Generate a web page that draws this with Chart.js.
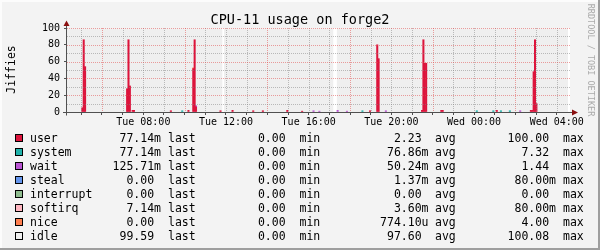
<!DOCTYPE html>
<html>
<head>
<meta charset="utf-8">
<title>CPU-11 usage on forge2</title>
<script src="https://cdn.jsdelivr.net/npm/chart.js@4.4.1/dist/chart.umd.min.js"></script>
<style>
  html, body { margin: 0; padding: 0; background: #f3f3f3; }
  #wrap { width: 600px; height: 250px; }
</style>
</head>
<body>
<div id="wrap"><canvas id="cpuChart" width="600" height="250"></canvas></div>
<script>
// times are minutes since Tue 00:00, values in jiffies
const timeRange = [258.5, 1718.5];
const hourTicks = [300, 360, 420, 480, 540, 600, 660, 720, 780, 840, 900, 960, 1020, 1080,
  1140, 1200, 1260, 1320, 1380, 1440, 1500, 1560, 1620, 1680];
const xLabelTimes = [480, 720, 960, 1200, 1440, 1680];
const xLabels = ['Tue 08:00', 'Tue 12:00', 'Tue 16:00', 'Tue 20:00', 'Wed 00:00', 'Wed 04:00'];
const xMajorTimes = [360, 600, 840, 1080, 1320, 1560];
const yTicks = [0, 10, 20, 30, 40, 50, 60, 70, 80, 90, 100];
const yLabels = [0, 20, 40, 60, 80, 100];

const seriesNames = ['user', 'system', 'wait', 'steal', 'interrupt', 'softirq', 'nice', 'idle'];
const seriesColors = ['#dc143c', '#20b2aa', '#ba55d3', '#6495ed', '#8fbc8f', '#ffb6c1', '#ff7f50', '#efefef'];

// [minute, value]
const user = [[303, 5], [307, 86], [311, 54], [433, 27.7], [437, 86], [441, 31], [449, 2], [453, 2],
  [560, 1.5], [611, 2], [625, 51.5], [629, 86], [633, 6], [704, 1.5], [739, 2], [799, 1.5], [827, 1.5],
  [898, 2], [941, 1], [1138, 1.5], [1159, 80], [1163, 63.5], [1289, 2], [1293, 86], [1297, 58], [1301, 58],
  [1345, 2], [1349, 2], [1506, 2], [1605, 2], [1609, 2], [1613, 48], [1617, 86], [1621, 10]];
const system = [[593, 1.5], [1116, 1.5], [1448, 1.5], [1496, 1.5], [1518, 1.5], [1544, 1.5]];
const wait = [[633, 1.5], [974, 1.5], [991, 1], [1044, 2], [1071, 1], [1184, 1.5], [1574, 1.5]];
const steal = [];
const interrupt = [];
const softirq = [];
const nice = [[625, 1]];
const idle = [[258, 99.6], [710, 99.6], [712, null], [714, 99.6], [1032, 99.6], [1036, null], [1041, 99.6], [1713, 99.6]];

const lastVals = ['77.14m', '77.14m', '125.71m', '0.00', '0.00', '7.14m', '0.00', '99.59'];
const minVals = ['0.00', '0.00', '0.00', '0.00', '0.00', '0.00', '0.00', '0.00'];
const avgVals = ['2.23', '76.86m', '50.24m', '1.37m', '0.00', '3.60m', '774.10u', '97.60'];
const maxVals = ['100.00', '7.32', '1.44', '80.00m', '0.00', '80.00m', '4.00', '100.08'];

const MONO = "'DejaVu Sans Mono', monospace";
const minorGrid = 'rgba(130,130,130,0.5)';
const majorGrid = 'rgba(225,70,70,0.5)';

const barSeries = [user, system, wait, steal, interrupt, softirq, nice];
const datasets = barSeries.map((s, i) => ({
    type: 'bar',
    label: seriesNames[i],
    data: s.map(([x, y]) => ({ x, y })),
    backgroundColor: seriesColors[i],
    borderWidth: 0,
    categoryPercentage: 1,
    barPercentage: 1,
    order: 0
}));
datasets.push({
    type: 'line',
    label: 'idle',
    data: idle.map(([x, y]) => ({ x, y })),
    borderColor: 'rgba(0,0,0,0)',
    borderWidth: 0,
    backgroundColor: seriesColors[7],
    pointRadius: 0,
    fill: 'origin',
    spanGaps: false,
    order: 1
});

const pad = v => (/[0-9]$/.test(v) ? v + ' ' : v);

const rrdDecor = {
    id: 'rrdDecor',
    beforeDraw(chart) {
        const c = chart.ctx;
        const a = chart.chartArea;
        c.save();
        c.fillStyle = '#f3f3f3';
        c.fillRect(0, 0, 600, 250);
        c.fillStyle = '#fcfcfc';
        c.fillRect(0, 0, 600, 2);
        c.fillRect(0, 0, 2, 250);
        c.fillStyle = '#9e9e9e';
        c.fillRect(0, 248, 600, 2);
        c.fillRect(598, 0, 2, 250);
        c.fillStyle = '#ffffff';
        c.fillRect(a.left, a.top, a.right - a.left, a.bottom - a.top);
        c.restore();
    },
    afterDatasetsDraw(chart) {
        // rrdtool draws its dotted grid on top of the areas
        const c = chart.ctx;
        const a = chart.chartArea;
        const xs = chart.scales.x;
        const ys = chart.scales.y;
        c.save();
        c.lineWidth = 1;
        c.setLineDash([1, 1]);
        hourTicks.forEach(t => {
            const px = Math.round(xs.getPixelForValue(t)) + 0.5;
            c.strokeStyle = xMajorTimes.includes(t) ? majorGrid : minorGrid;
            c.beginPath(); c.moveTo(px, a.top); c.lineTo(px, a.bottom); c.stroke();
        });
        yTicks.forEach(v => {
            if (v === 0) return;
            const py = Math.round(ys.getPixelForValue(v)) + 0.5;
            c.strokeStyle = yLabels.includes(v) ? majorGrid : minorGrid;
            c.beginPath(); c.moveTo(a.left, py); c.lineTo(a.right, py); c.stroke();
        });
        c.restore();
    },
    afterDraw(chart) {
        const c = chart.ctx;
        const a = chart.chartArea;
        const y0 = Math.round(chart.scales.y.getPixelForValue(0)) + 0.5;
        const xl = a.left - 0.5;
        c.save();
        // axes
        c.strokeStyle = '#505050';
        c.lineWidth = 1;
        c.beginPath();
        c.moveTo(63, y0); c.lineTo(573, y0);
        c.moveTo(xl, y0 + 3); c.lineTo(xl, a.top - 2);
        c.stroke();
        c.fillStyle = '#8b1010';
        c.beginPath();
        c.moveTo(572, y0 - 3); c.lineTo(578, y0); c.lineTo(572, y0 + 3); c.closePath();
        c.fill();
        c.beginPath();
        c.moveTo(xl - 3, a.top - 2); c.lineTo(xl, a.top - 7.5); c.lineTo(xl + 3, a.top - 2); c.closePath();
        c.fill();

        // title
        c.fillStyle = '#000';
        c.font = '13.5px ' + MONO;
        c.textAlign = 'center';
        c.textBaseline = 'alphabetic';
        c.fillText('CPU-11 usage on forge2', 300, 24);

        // vertical label
        c.save();
        c.font = '11.5px ' + MONO;
        c.translate(15, 69.5);
        c.rotate(-Math.PI / 2);
        c.fillText('Jiffies', 0, 0);
        c.restore();

        // watermark
        c.save();
        c.font = '8.5px ' + MONO;
        c.fillStyle = '#aaaaaa';
        c.translate(587.5, 60);
        c.rotate(Math.PI / 2);
        c.fillText('RRDTOOL / TOBI OETIKER', 0, 0);
        c.restore();

        // legend
        c.font = '11.5px ' + MONO;
        seriesNames.forEach((name, i) => {
            const by = 142.3 + 14 * i;
            c.fillStyle = seriesColors[i];
            c.fillRect(15, 134 + 14 * i, 8, 8);
            c.strokeStyle = '#000';
            c.strokeRect(15.5, 134.5 + 14 * i, 7, 7);
            c.fillStyle = '#000';
            c.textAlign = 'left';
            c.fillText(name, 30, by);
            c.fillText('last', 168, by);
            c.fillText('min', 299.5, by);
            c.fillText('avg', 435, by);
            c.fillText('max', 563, by);
            c.textAlign = 'right';
            c.fillText(pad(lastVals[i]), 161, by);
            c.fillText(pad(minVals[i]), 292.5, by);
            c.fillText(pad(avgVals[i]), 428.5, by);
            c.fillText(pad(maxVals[i]), 556, by);
        });
        c.restore();
    }
};

new Chart(document.getElementById('cpuChart'), {
    type: 'bar',
    data: { datasets },
    options: {
        responsive: false,
        animation: false,
        devicePixelRatio: 1,
        events: [],
        layout: { padding: { left: 0, top: 28, right: 30, bottom: 118 } },
        plugins: {
            legend: { display: false },
            title: { display: false },
            tooltip: { enabled: false }
        },
        scales: {
            x: {
                type: 'linear',
                min: timeRange[0],
                max: timeRange[1],
                bounds: 'data',
                offset: false,
                stacked: true,
                grid: {
                    offset: false,
                    drawOnChartArea: false,
                    drawTicks: true,
                    tickLength: 3,
                    tickWidth: 1,
                    tickColor: '#505050'
                },
                border: { display: false },
                ticks: {
                    autoSkip: false,
                    maxRotation: 0,
                    minRotation: 0,
                    padding: 1,
                    color: '#000',
                    font: { family: MONO, size: 10 },
                    callback: v => {
                        const k = xLabelTimes.indexOf(v);
                        return k < 0 ? '' : xLabels[k];
                    }
                },
                afterBuildTicks: s => { s.ticks = hourTicks.map(v => ({ value: v })); },
                afterFit: s => { s.height = 20; }
            },
            y: {
                min: 0,
                max: 100,
                stacked: true,
                grid: {
                    drawOnChartArea: false,
                    drawTicks: true,
                    tickLength: 3,
                    tickWidth: 1,
                    tickColor: '#505050'
                },
                border: { display: false },
                ticks: {
                    padding: 4,
                    color: '#000',
                    font: { family: MONO, size: 10 },
                    callback: v => (yLabels.includes(v) ? String(v) : '')
                },
                afterBuildTicks: s => { s.ticks = yTicks.map(v => ({ value: v })); },
                afterFit: s => { s.width = 67; }
            }
        }
    },
    plugins: [rrdDecor]
});
</script>
</body>
</html>
